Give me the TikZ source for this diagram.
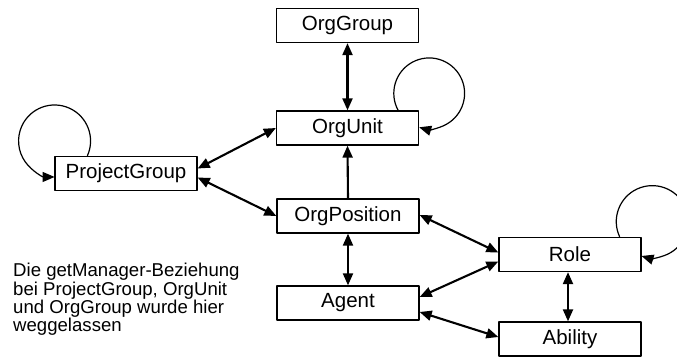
\documentclass[tikz,border=0pt]{standalone}
\usepackage{fontspec}
\setmainfont{Liberation Sans}
\usetikzlibrary{arrows.meta}

\begin{document}
\begin{tikzpicture}
	[
		x=1pt,
		y=1pt,
		line join=round,
		>={Triangle[length=12pt,width=10pt]},
		box/.style={draw,line width=1.3pt,fill=white,minimum width=142pt,minimum height=34pt,inner sep=0pt,font=\fontsize{20.5}{20.5}\selectfont},
		link/.style={line width=2.1pt},
		selfloop/.style={->,line width=1.2pt}
	]
		\useasboundingbox (0,0) rectangle (677,356);
		\node[box] (OrgGroup) at (347.5,330.5) {OrgGroup};
		\node[box] (OrgUnit) at (347.5,228) {OrgUnit};
		\node[box] (OrgPosition) at (348,140) {OrgPosition};
		\node[box] (Agent) at (348,53) {Agent};
		\node[box] (ProjectGroup) at (126,182.5) {ProjectGroup};
		\node[box] (Role) at (570,101.5) {Role};
		\node[box] (Ability) at (570,17) {Ability};
		\node[anchor=north west,inner sep=0pt,align=left,font=\fontsize{18.6}{16.7}\selectfont] (note) at (13,93)
			{Die getManager-Beziehung\\bei ProjectGroup, OrgUnit\\und OrgGroup wurde hier\\weggelassen};
		\draw[link,<->] (OrgGroup.south) -- (OrgUnit.north);
		\draw[link,->] (OrgPosition.north) -- (OrgUnit.south);
		\draw[link,<->] (OrgPosition.south) -- (Agent.north);
		\draw[link,<->] ([yshift=5pt]ProjectGroup.east) -- (OrgUnit.west);
		\draw[link,<->] ([yshift=-4pt]ProjectGroup.east) -- (OrgPosition.west);
		\draw[link,<->] ([yshift=1pt]OrgPosition.east) -- ([yshift=2pt]Role.west);
		\draw[link,<->] ([yshift=6pt]Agent.east) -- ([yshift=-7pt]Role.west);
		\draw[link,<->] ([yshift=-9pt]Agent.east) -- ([yshift=2pt]Ability.west);
		\draw[link,<->] ([xshift=-2pt]Role.south) -- ([xshift=-2pt]Ability.north);
		\draw[selfloop] ([xshift=-21pt]OrgUnit.north east) arc[start angle=208.7,end angle=-106.4,radius=35.4];
		\draw[selfloop] ([xshift=33pt]ProjectGroup.north west) arc[start angle=-24.4,end angle=270,radius=36];
		\draw[selfloop] ([xshift=-22pt]Role.north east) arc[start angle=205,end angle=-107.4,radius=36];
	\end{tikzpicture}
\end{document}
